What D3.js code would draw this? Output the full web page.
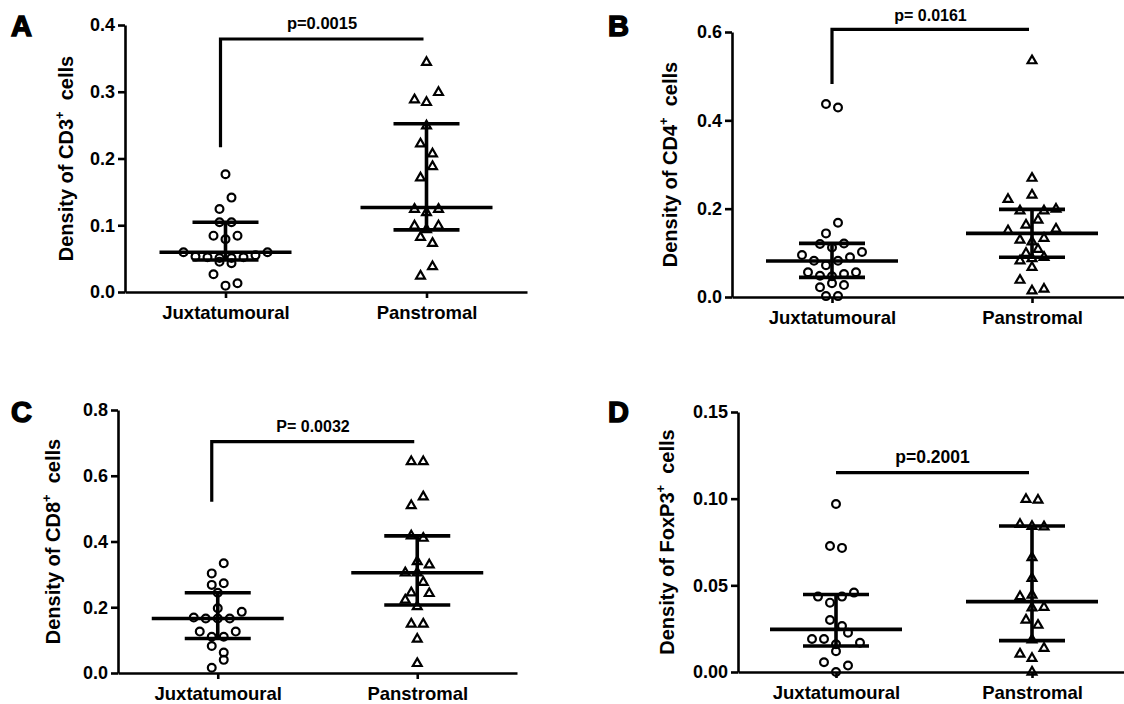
<!DOCTYPE html>
<html><head><meta charset="utf-8">
<script src="https://cdn.jsdelivr.net/npm/d3@7"></script>
<style>
body{margin:0;background:#fff}
svg{display:block}
text{font-family:"Liberation Sans",Arial,sans-serif;font-weight:bold;fill:#000}
</style>
</head><body><svg id="chart" width="1124" height="704"></svg>
<script>
// ---------- data ----------
const categories = ["Juxtatumoural", "Panstromal"];
const panelLetters = ["A", "B", "C", "D"];
const markerNames = ["CD3", "CD4", "CD8", "FoxP3"];
const pLabels = ["p=0.0015", "p= 0.0161", "P= 0.0032", "p=0.2001"];

const ticksA = [0, 0.1, 0.2, 0.3, 0.4];
const ticksB = [0, 0.2, 0.4, 0.6];
const ticksC = [0, 0.2, 0.4, 0.6, 0.8];
const ticksD = [0, 0.05, 0.10, 0.15];

// values grouped in the rows in which the scatter spreads them (left to right)
const aJuxta = [[0.1765],[0.1244,0.1414],[0.1045,0.1045],[0.0844,0.079,0.0844],
  [0.0595,0.053,0.052,0.051,0.051,0.052,0.055,0.0595],[0.0455,0.043],[0.0265,0.0095,0.013]];
const aPan = [[0.344],[0.288,0.284,0.299],[0.249],[0.222,0.207],[0.171,0.188],
  [0.124,0.119,0.124],[0.099,0.0935,0.099],[0.082,0.073],[0.024,0.038]];
const bJuxta = [[0.437,0.429],[0.144,0.168],[0.120,0.112,0.121],
  [0.095,0.082,0.072,0.082,0.090,0.102],[0.056,0.048,0.047,0.052,0.056],
  [0.022,0.031,0.027],[0.002,0.002]];
const bPan = [[0.535],[0.269],[0.221,0.195,0.231,0.195,0.199],[0.163,0.174],
  [0.150,0.129,0.125,0.133,0.154],[0.099,0.108],[0.082,0.087,0.090],[0.067],
  [0.038,0.014,0.018]];
const cJuxta = [[0.303,0.334],[0.268,0.273],[0.244],[0.197],
  [0.169,0.166,0.166,0.166,0.186],[0.126,0.110,0.110,0.126],[0.082,0.062],[0.016,0.040]];
const cPan = [[0.643,0.643],[0.509,0.536],[0.417,0.410],[0.339],[0.305,0.305,0.329],
  [0.244,0.276],[0.222,0.202,0.242],[0.149,0.149],[0.103],[0.029]];
const dJuxta = [[0.0969],[0.0727,0.0716],[0.0435,0.040,0.0435,0.0458],[0.030,0.0265],
  [0.019,0.019,0.016,0.0227,0.0169],[0.012],[0.0056,0.0,0.0037]];
const dPan = [[0.0996,0.0992],[0.0852,0.084,0.0838],[0.066],[0.054],[0.0435,0.0444,0.0373],
  [0.037],[0.030,0.027],[0.0185],[0.0104,0.0079,0.0137],[0.0]];

// [lower quartile, median, upper quartile]
const aJuxtaStats = [0.048, 0.0595, 0.1045];
const aPanStats = [0.093, 0.1265, 0.252];
const bJuxtaStats = [0.0445, 0.0815, 0.1215];
const bPanStats = [0.090, 0.144, 0.1985];
const cJuxtaStats = [0.105, 0.166, 0.244];
const cPanStats = [0.207, 0.305, 0.417];
const dJuxtaStats = [0.015, 0.0246, 0.0447];
const dPanStats = [0.0181, 0.0406, 0.0842];

// significance bracket [bar level, lower end of left leg (null = no leg)]
const aBracket = [0.379, 0.217];
const bBracket = [0.606, 0.482];
const cBracket = [0.704, 0.521];
const dBracket = [0.115, null];

// ---------- layout ----------
const panels = [
  {letter: panelLetters[0], marker: markerNames[0], p: pLabels[0], ticks: ticksA, fmt: ".1f",
   groups: [aJuxta, aPan], stats: [aJuxtaStats, aPanStats], bracket: aBracket,
   x0: 125, x1: 527, yTop: 25, yBottom: 292, titleOff: 52, letterX: 11, letterY: 36, pSize: 16.5, pGap: 10, legShift: -5},
  {letter: panelLetters[1], marker: markerNames[1], p: pLabels[1], ticks: ticksB, fmt: ".1f",
   groups: [bJuxta, bPan], stats: [bJuxtaStats, bPanStats], bracket: bBracket,
   x0: 732, x1: 1132, yTop: 32, yBottom: 297, titleOff: 55, letterX: 608, letterY: 36, pSize: 16, pGap: 8, legShift: 0},
  {letter: panelLetters[2], marker: markerNames[2], p: pLabels[2], ticks: ticksC, fmt: ".1f",
   groups: [cJuxta, cPan], stats: [cJuxtaStats, cPanStats], bracket: cBracket,
   x0: 118, x1: 517, yTop: 410, yBottom: 673, titleOff: 58, letterX: 11, letterY: 422, pSize: 16, pGap: 10, legShift: -6},
  {letter: panelLetters[3], marker: markerNames[3], p: pLabels[3], ticks: ticksD, fmt: ".2f",
   groups: [dJuxta, dPan], stats: [dJuxtaStats, dPanStats], bracket: dBracket,
   x0: 738, x1: 1130, yTop: 412, yBottom: 672, titleOff: 64, letterX: 608, letterY: 422, pSize: 17.5, pGap: 10, legShift: 0}
];

const svg = d3.select("#chart");
const SLOT = 12;          // horizontal spacing between points in a row
const MED_HALF = 66, Q_HALF = 33;

panels.forEach(p => {
  const g = svg.append("g");
  const x = d3.scalePoint().domain(categories).range([p.x0, p.x1]).padding(0.5);
  const y = d3.scaleLinear().domain([0, p.ticks[p.ticks.length - 1]]).range([p.yBottom, p.yTop]);

  // axes
  const ya = g.append("g").attr("transform", `translate(${p.x0},0)`)
    .call(d3.axisLeft(y).tickValues(p.ticks).tickFormat(d3.format(p.fmt)).tickSize(7).tickSizeOuter(0).tickPadding(3));
  const xa = g.append("g").attr("transform", `translate(0,${p.yBottom})`)
    .call(d3.axisBottom(x).tickSize(6).tickSizeOuter(0).tickPadding(8));
  [ya, xa].forEach(a => {
    a.select(".domain").attr("stroke", "#000").attr("stroke-width", 2.6);
    a.selectAll(".tick line").attr("stroke", "#000").attr("stroke-width", 2.6);
  });
  ya.selectAll(".tick text").attr("font-size", 18).attr("font-family", "Liberation Sans, Arial, sans-serif").attr("font-weight", "bold");
  xa.selectAll(".tick text").attr("font-size", 18.5).attr("font-family", "Liberation Sans, Arial, sans-serif").attr("font-weight", "bold");

  // axis title
  const t = g.append("text")
    .attr("transform", `translate(${p.x0 - p.titleOff},${(p.yTop + p.yBottom) / 2}) rotate(-90)`)
    .attr("text-anchor", "middle").attr("font-size", 20);
  t.append("tspan").text("Density of " + p.marker);
  t.append("tspan").attr("font-size", 13).attr("dy", -9).text("+");
  t.append("tspan").attr("dy", 9).text("\u00a0 cells");

  // panel letter
  g.append("text").attr("x", p.letterX).attr("y", p.letterY)
    .attr("font-size", 29).attr("stroke", "#000").attr("stroke-width", 1.5).text(p.letter);

  // points
  p.groups.forEach((rows, gi) => {
    const cx = x(categories[gi]);
    const pts = [];
    rows.forEach(row => row.forEach((v, i) => pts.push({v, off: (i - (row.length - 1) / 2) * SLOT})));
    if (gi === 0) {
      g.selectAll(null).data(pts).join("circle")
        .attr("cx", d => cx + d.off).attr("cy", d => y(d.v)).attr("r", 3.9)
        .attr("fill", "none").attr("stroke", "#000").attr("stroke-width", 2.2);
    } else {
      const sym = d3.symbol().type(d3.symbolTriangle).size(34);
      g.selectAll(null).data(pts).join("path")
        .attr("d", sym).attr("transform", d => `translate(${cx + d.off},${y(d.v)})`)
        .attr("fill", "none").attr("stroke", "#000").attr("stroke-width", 2.2).attr("stroke-linejoin", "miter");
    }
    // median and interquartile range
    const [q1, med, q3] = p.stats[gi];
    const lines = [
      [cx - MED_HALF, y(med), cx + MED_HALF, y(med)],
      [cx - Q_HALF, y(q1), cx + Q_HALF, y(q1)],
      [cx - Q_HALF, y(q3), cx + Q_HALF, y(q3)],
      [cx, y(q1), cx, y(q3)]
    ];
    g.selectAll(null).data(lines).join("line")
      .attr("x1", d => d[0]).attr("y1", d => d[1]).attr("x2", d => d[2]).attr("y2", d => d[3])
      .attr("stroke", "#000").attr("stroke-width", 3.6);
  });

  // significance bracket
  const [top, leg] = p.bracket;
  const bx0 = x(categories[0]) + p.legShift, bx1 = x(categories[1]) - 3;
  const path = d3.path();
  if (leg !== null) { path.moveTo(bx0, y(leg)); path.lineTo(bx0, y(top)); }
  else path.moveTo(bx0, y(top));
  path.lineTo(bx1, y(top));
  g.append("path").attr("d", path.toString()).attr("fill", "none")
    .attr("stroke", "#000").attr("stroke-width", 3.2).attr("stroke-linejoin", "miter");
  g.append("text").attr("x", (bx0 + bx1) / 2).attr("y", y(top) - p.pGap)
    .attr("text-anchor", "middle").attr("font-size", p.pSize).text(p.p);
});
</script>
</body></html>
